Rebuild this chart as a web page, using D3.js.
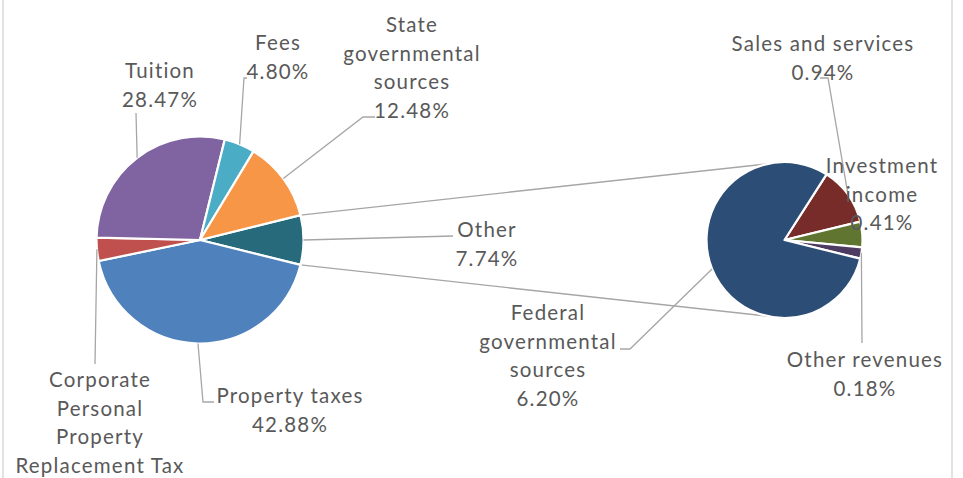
<!DOCTYPE html>
<html>
<head>
<meta charset="utf-8">
<script src="https://cdn.jsdelivr.net/npm/d3@7"></script>
<style>
  html, body { margin: 0; padding: 0; background: #ffffff; }
  svg { display: block; }
  text { font-family: "Lato", "Open Sans", sans-serif; }
</style>
</head>
<body>
<svg id="chart" width="963" height="478"></svg>
<script>
// ---------- DATA ----------
const mainCategories = ["Other", "Property taxes", "Corporate Personal Property Replacement Tax", "Tuition", "Fees", "State governmental sources"];
const mainValues = [7.74, 42.88, 3.63, 28.47, 4.80, 12.48];
const mainLabelLines = [["Other"], ["Property taxes"], ["Corporate", "Personal", "Property", "Replacement Tax"], ["Tuition"], ["Fees"], ["State", "governmental", "sources"]];

const subCategories = ["Sales and services", "Investment income", "Other revenues", "Federal governmental sources"];
const subValues = [0.94, 0.41, 0.18, 6.20];
const subLabelLines = [["Sales and services"], ["Investment", "income"], ["Other revenues"], ["Federal", "governmental", "sources"]];

// ---------- STYLE / LAYOUT ----------
const W = 963, H = 478;
const mainColors = ["#276A7C", "#4F81BD", "#C0504D", "#8064A2", "#4BACC6", "#F79646"];
const subColors = ["#772C2A", "#5F7530", "#4D3B62", "#2C4D75"];
const textColor = "#595959";
const leaderColor = "#A6A6A6";
const fontSize = 20.5;
const lineH = 28.6;

const main = { cx: 200, cy: 240, r: 103.5 };
const sub = { cx: 784.5, cy: 240, r: 78 };
const subStart = 32.6 * Math.PI / 180;

// label anchors: centre x, first baseline; leader: points from label side (pie point computed)
const mainLabelLayout = [
  { x: 487, y: 237, leader: [[453, 236]] },
  { x: 290, y: 403, leader: [[214, 402], [203, 402]] },
  { x: 100, y: 387, leader: [[95, 364]] },
  { x: 160, y: 78, leader: [[136, 113]] },
  { x: 278, y: 50, leader: [[247, 78], [244, 78]] },
  { x: 412, y: 32, leader: [[375, 117], [363, 117]] }
];
const subLabelLayout = [
  { x: 823, y: 51, leader: [[820, 78], [828, 78]] },
  { x: 882, y: 173, leader: null },
  { x: 865, y: 367, leader: [[862, 343]] },
  { x: 548, y: 320, leader: [[620, 349], [630, 349]] }
];

const fmt = v => v.toFixed(2) + "%";

const svg = d3.select("#chart");

// border
svg.append("rect")
  .attr("x", 3).attr("y", -10).attr("width", 949).attr("height", 500)
  .attr("fill", "none").attr("stroke", "#D9D9D9").attr("stroke-width", 1.5);

// ---------- PIES ----------
const mainTotal = d3.sum(mainValues);
const otherFrac = mainValues[0] / mainTotal;
const mainStart = Math.PI / 2 - otherFrac * Math.PI;

const mainPie = d3.pie().sort(null).value(d => d)
  .startAngle(mainStart).endAngle(mainStart + 2 * Math.PI);
const subPie = d3.pie().sort(null).value(d => d)
  .startAngle(subStart).endAngle(subStart + 2 * Math.PI);

const mainArcs = mainPie(mainValues);
const subArcs = subPie(subValues);

const mainArc = d3.arc().innerRadius(0).outerRadius(main.r);
const subArc = d3.arc().innerRadius(0).outerRadius(sub.r);

const polar = (c, r, a) => [c.cx + r * Math.sin(a), c.cy - r * Math.cos(a)];

// connector lines
const otherArc = mainArcs[0];
const connectors = [
  [polar(main, main.r, otherArc.startAngle), [sub.cx, sub.cy - sub.r]],
  [polar(main, main.r, otherArc.endAngle), [sub.cx, sub.cy + sub.r]]
];
svg.append("g").selectAll("line").data(connectors).join("line")
  .attr("x1", d => d[0][0]).attr("y1", d => d[0][1])
  .attr("x2", d => d[1][0]).attr("y2", d => d[1][1])
  .attr("stroke", leaderColor).attr("stroke-width", 1.4);

svg.append("g").attr("transform", `translate(${main.cx},${main.cy})`)
  .selectAll("path").data(mainArcs).join("path")
  .attr("d", mainArc)
  .attr("fill", (d, i) => mainColors[i])
  .attr("stroke", "#ffffff").attr("stroke-width", 2.2).attr("stroke-linejoin", "round");

svg.append("g").attr("transform", `translate(${sub.cx},${sub.cy})`)
  .selectAll("path").data(subArcs).join("path")
  .attr("d", subArc)
  .attr("fill", (d, i) => subColors[i])
  .attr("stroke", "#ffffff").attr("stroke-width", 2.2).attr("stroke-linejoin", "round");

// ---------- LEADERS ----------
const line = d3.line();
function drawLeader(center, arcD, layout) {
  if (!layout.leader) return;
  const mid = (arcD.startAngle + arcD.endAngle) / 2;
  const pts = [polar(center, center.r, mid)].concat(layout.leader.slice().reverse());
  svg.append("path").attr("d", line(pts))
    .attr("fill", "none").attr("stroke", leaderColor).attr("stroke-width", 1.3);
}
mainArcs.forEach((d, i) => drawLeader(main, d, mainLabelLayout[i]));
subArcs.forEach((d, i) => drawLeader(sub, d, subLabelLayout[i]));

// ---------- LABELS ----------
function drawLabel(lines, value, layout) {
  const all = lines.concat([fmt(value)]);
  const t = svg.append("text")
    .attr("text-anchor", "middle")
    .attr("fill", textColor)
    .attr("font-size", fontSize)
    .attr("letter-spacing", 1.2);
  all.forEach((s, k) => {
    const y = layout.y + k * lineH;
    if (y - fontSize * 0.7 > H) return; // line falls entirely below the visible frame (as in the reference)
    t.append("tspan").attr("x", layout.x).attr("y", y).text(s);
  });
}
mainValues.forEach((v, i) => drawLabel(mainLabelLines[i], v, mainLabelLayout[i]));
subValues.forEach((v, i) => drawLabel(subLabelLines[i], v, subLabelLayout[i]));
</script>
</body>
</html>
